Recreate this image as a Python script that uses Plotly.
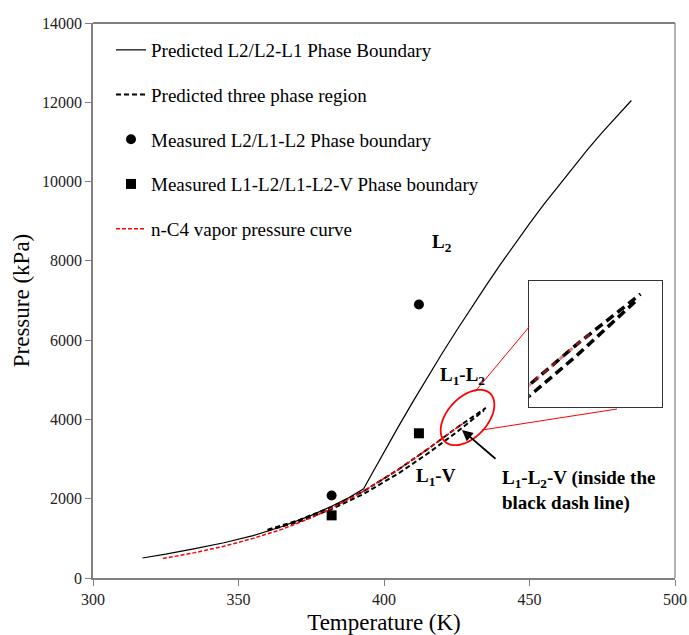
import numpy as np
import plotly.graph_objects as go

# ---------------- data ----------------
T_boundary = [317, 325, 335, 345, 355, 365, 375, 382, 388, 393,
              396, 400, 405, 410, 415, 420, 425, 430, 435, 440,
              445, 450, 455, 460, 465, 470, 475, 480, 485]
P_boundary = [505, 600, 740, 890, 1070, 1300, 1580, 1810, 2030, 2250,
              2650, 3180, 3825, 4455, 5070, 5670, 6250, 6820, 7370, 7910,
              8430, 8940, 9430, 9900, 10360, 10810, 11240, 11650, 12045]

T_3ph_upper = [360, 370, 382, 393, 405, 415, 425, 435]
P_3ph_upper = [1220, 1440, 1790, 2190, 2740, 3250, 3790, 4290]
T_3ph_lower = [360, 370, 382, 393, 405, 415, 425, 434.4]
P_3ph_lower = [1200, 1400, 1740, 2120, 2640, 3140, 3680, 4230]

T_vap = [324, 335, 345, 355, 365, 375, 382, 393, 405, 415, 425, 427]
P_vap = [490, 640, 800, 1000, 1230, 1520, 1760, 2190, 2740, 3250, 3790, 3890]

T_meas_circle = [382, 412]
P_meas_circle = [2080, 6900]
T_meas_square = [382, 412]
P_meas_square = [1580, 3650]

x_ticks = [300, 350, 400, 450, 500]
y_ticks = [0, 2000, 4000, 6000, 8000, 10000, 12000, 14000]
y_tick_text = [str(v) for v in y_ticks]
x_tick_text = [str(v) for v in x_ticks]

# inset (zoomed) window
inset_T = [417.6, 438.4]
inset_P = [3169, 4419]

FONT = "Liberation Serif, Times New Roman, serif"

# ---------------- figure ----------------
W, H = 689, 635
ML, MR, MT, MB = 93, 14, 23, 57
PW, PH = W - ML - MR, H - MT - MB


def px_x(px):
    return (px - ML) / PW


def px_y(py):
    return (H - MB - py) / PH


fig = go.Figure()

fig.add_trace(go.Scatter(x=T_boundary, y=P_boundary, mode="lines",
                         name="Predicted L2/L2-L1 Phase Boundary",
                         line=dict(color="black", width=1.2), legendgroup="a"))

T3 = T_3ph_upper + [None] + T_3ph_lower
P3 = P_3ph_upper + [None] + P_3ph_lower
fig.add_trace(go.Scatter(x=T3, y=P3, mode="lines", connectgaps=False,
                         name="Predicted three phase region",
                         line=dict(color="black", width=2, dash="5px,3px"), legendgroup="b"))

fig.add_trace(go.Scatter(x=T_meas_circle, y=P_meas_circle, mode="markers",
                         name="Measured L2/L1-L2 Phase boundary",
                         marker=dict(symbol="circle", size=10, color="black"), legendgroup="c"))

fig.add_trace(go.Scatter(x=T_meas_square, y=P_meas_square, mode="markers",
                         name="Measured L1-L2/L1-L2-V Phase boundary",
                         marker=dict(symbol="square", size=10, color="black"), legendgroup="d"))

fig.add_trace(go.Scatter(x=T_vap, y=P_vap, mode="lines",
                         name="n-C4 vapor pressure curve",
                         line=dict(color="red", width=1.5, dash="4px,2px"), legendgroup="e"))

# inset traces
fig.add_trace(go.Scatter(x=T3, y=P3, mode="lines", xaxis="x2", yaxis="y2", showlegend=False,
                         line=dict(color="black", width=3.5, dash="9px,5px")))
fig.add_trace(go.Scatter(x=T_vap, y=P_vap, mode="lines", xaxis="x2", yaxis="y2", showlegend=False,
                         line=dict(color="rgba(200,40,40,0.6)", width=3, dash="6px,5px")))

# ---------------- shapes ----------------
shapes = []
shapes.append(dict(type="line", xref="paper", yref="paper", x0=0, x1=1, y0=1, y1=1,
                   line=dict(color="black", width=1.2)))
shapes.append(dict(type="line", xref="paper", yref="paper", x0=1, x1=1, y0=0, y1=1,
                   line=dict(color="#808080", width=1.2)))

cx, cy, a, b, ang = 467.5, 417.5, 33, 20, np.deg2rad(-47)
t = np.linspace(0, 2 * np.pi, 73)
ex = cx + a * np.cos(t) * np.cos(ang) - b * np.sin(t) * np.sin(ang)
ey = cy + a * np.cos(t) * np.sin(ang) + b * np.sin(t) * np.cos(ang)
path = "M " + " L ".join(f"{px_x(x):.5f},{px_y(y):.5f}" for x, y in zip(ex, ey)) + " Z"
shapes.append(dict(type="path", xref="paper", yref="paper", path=path,
                   line=dict(color="red", width=1.8)))
shapes.append(dict(type="line", xref="paper", yref="paper",
                   x0=px_x(475), y0=px_y(391.7), x1=px_x(529.3), y1=px_y(326.7),
                   line=dict(color="red", width=1)))
shapes.append(dict(type="line", xref="paper", yref="paper",
                   x0=px_x(482), y0=px_y(430), x1=px_x(617), y1=px_y(409),
                   line=dict(color="red", width=1)))

# ---------------- annotations ----------------
LBL = dict(family=FONT, size=19, color="black")
ann = []
ann.append(dict(xref="paper", yref="paper", x=px_x(442), y=px_y(243), text="<b>L<sub>2</sub></b>",
                showarrow=False, font=LBL))
ann.append(dict(xref="paper", yref="paper", x=px_x(462), y=px_y(376), text="<b>L<sub>1</sub>-L<sub>2</sub></b>",
                showarrow=False, font=LBL))
ann.append(dict(xref="paper", yref="paper", x=px_x(436), y=px_y(491), text="<b>L<sub>1</sub>-V</b>",
                showarrow=False, font=LBL))
ann.append(dict(xref="paper", yref="paper", x=px_x(500), y=px_y(490), xanchor="left", yanchor="middle",
                align="left",
                text="<b>L<sub>1</sub>-L<sub>2</sub>-V (inside the<br>black dash line)</b>",
                showarrow=False, font=LBL))
ann.append(dict(xref="paper", yref="paper", x=px_x(462), y=px_y(430), ax=35, ay=30,
                text="", showarrow=True, arrowhead=2, arrowsize=1.2, arrowwidth=1.8,
                arrowcolor="black"))

fig.update_layout(
    width=W, height=H,
    margin=dict(l=ML, r=MR, t=MT, b=MB, autoexpand=False),
    paper_bgcolor="white", plot_bgcolor="white",
    font=dict(family=FONT, size=16, color="black"),
    showlegend=True,
    legend=dict(x=px_x(111), y=px_y(31), xanchor="left", yanchor="top",
                bgcolor="rgba(0,0,0,0)", font=dict(family=FONT, size=19, color="black"),
                tracegroupgap=17, itemwidth=30),
    xaxis=dict(range=[300, 500], tickvals=x_ticks, ticktext=x_tick_text, showgrid=False, zeroline=False,
               automargin=False,
               showline=True, linecolor="#808080", linewidth=1.5,
               ticks="outside", ticklen=6, tickcolor="#808080",
               tickfont=dict(family=FONT, size=16, color="#222"),
               title=dict(text="Temperature (K)", font=dict(family=FONT, size=23, color="black"),
                          standoff=14)),
    yaxis=dict(range=[0, 14000], tickvals=y_ticks, ticktext=y_tick_text, showgrid=False, zeroline=False,
               automargin=False,
               showline=True, linecolor="#808080", linewidth=1.5,
               ticks="outside", ticklen=6, tickcolor="#808080",
               tickfont=dict(family=FONT, size=16, color="#222"),
               title=dict(text="Pressure (kPa)", font=dict(family=FONT, size=23, color="black"),
                          standoff=6)),
    xaxis2=dict(domain=[px_x(529.3), px_x(662.3)], anchor="y2", range=inset_T,
                showgrid=False, zeroline=False, showticklabels=False, ticks="",
                showline=True, mirror=True, linecolor="#333", linewidth=1),
    yaxis2=dict(domain=[px_y(407.3), px_y(281)], anchor="x2", range=inset_P,
                showgrid=False, zeroline=False, showticklabels=False, ticks="",
                showline=True, mirror=True, linecolor="#333", linewidth=1),
    shapes=shapes,
    annotations=ann,
)

fig.write_html("out.html")
